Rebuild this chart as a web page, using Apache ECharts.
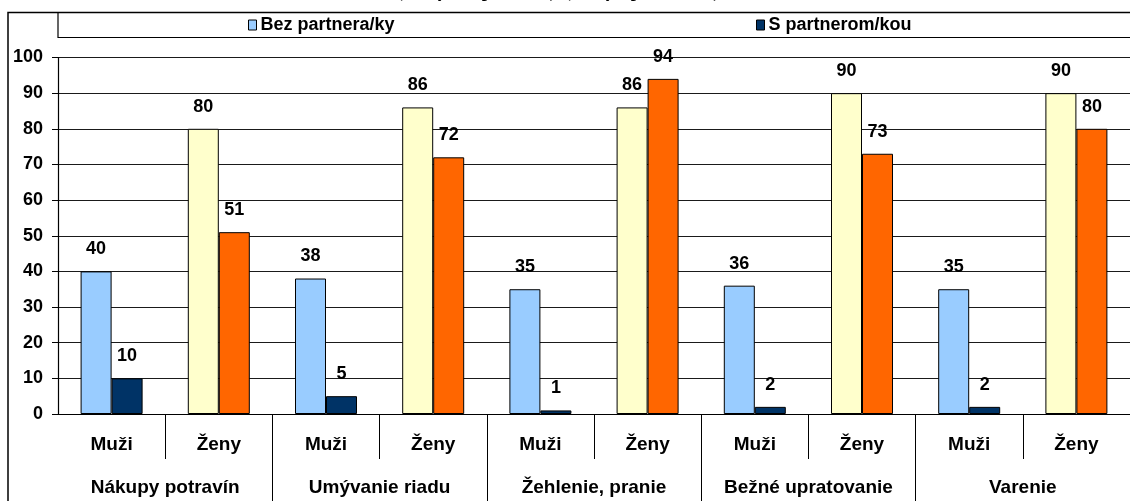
<!DOCTYPE html>
<html>
<head>
<meta charset="utf-8">
<script src="https://cdn.jsdelivr.net/npm/echarts@6/dist/echarts.min.js"></script>
<style>
html,body{margin:0;padding:0;background:#fff;}
#chart{width:1130px;height:501px;}
</style>
</head>
<body>
<div id="chart"></div>
<script>
const subCategories = ['Muži','Ženy','Muži','Ženy','Muži','Ženy','Muži','Ženy','Muži','Ženy'];
const groups = ['Nákupy potravín','Umývanie riadu','Žehlenie, pranie','Bežné upratovanie','Varenie'];
const bezPartnera = [40, 80, 38, 86, 35, 86, 36, 90, 35, 90];
const sPartnerom = [10, 51, 5, 72, 1, 94, 2, 73, 2, 80];
const seriesNames = ['Bez partnera/ky', 'S partnerom/kou'];
const yTicks = [0, 10, 20, 30, 40, 50, 60, 70, 80, 90, 100];
const titleText = '(osoby bez partnera), (osoby s partnerom)';

const COL = {
  menBez: '#99CCFF', menS: '#003366',
  womenBez: '#FFFFCC', womenS: '#FF6600'
};

function buildData(values, menColor, womenColor) {
  return values.map((v, i) => ({
    value: v,
    itemStyle: { color: i % 2 === 0 ? menColor : womenColor }
  }));
}

const labelFont = { fontFamily: 'Liberation Sans, Arial, sans-serif', fontWeight: 'bold', color: '#000' };

const chart = echarts.init(document.getElementById('chart'), null, { renderer: 'canvas' });
chart.setOption({
  animation: false,
  backgroundColor: '#fff',
  graphic: [
    { type: 'rect', shape: { x: 8, y: 12.5, width: 1300, height: 700 }, style: { fill: 'none', stroke: '#000', lineWidth: 1.5 }, z: 100 },
    { type: 'rect', shape: { x: 58, y: 12.5, width: 1300, height: 25 }, style: { fill: 'none', stroke: '#000', lineWidth: 1.2 }, z: 100 },
    { type: 'text', x: 558, y: 1, style: { text: titleText, fontFamily: 'Liberation Serif, Times New Roman, serif', fontWeight: 'bold', fontSize: 18, fill: '#000', align: 'center', verticalAlign: 'bottom' }, z: 100 }
  ],
  legend: [
    { data: [seriesNames[0]], left: 248, top: 16, padding: 0, icon: 'rect', itemWidth: 8, itemHeight: 10,
      itemStyle: { borderColor: '#000', borderWidth: 1 },
      textStyle: Object.assign({ fontSize: 18, padding: [0, 0, 0, -1] }, labelFont) },
    { data: [seriesNames[1]], left: 756, top: 16, padding: 0, icon: 'rect', itemWidth: 8, itemHeight: 10,
      itemStyle: { borderColor: '#000', borderWidth: 1 },
      textStyle: Object.assign({ fontSize: 18, padding: [0, 0, 0, -1] }, labelFont) }
  ],
  grid: { left: 58, right: -11, top: 57.5, bottom: 87, containLabel: false },
  xAxis: [
    {
      type: 'category', data: subCategories, position: 'bottom',
      axisLine: { show: true, lineStyle: { color: '#000', width: 1.2 } },
      axisTick: { show: true, length: 45, lineStyle: { color: '#000', width: 1 },
        interval: function (index) { return index !== 0; } },
      axisLabel: Object.assign({ fontSize: 19, margin: 21, interval: 0 }, labelFont),
      splitLine: { show: false }
    },
    {
      type: 'category', data: groups, position: 'bottom', offset: 0,
      axisLine: { show: false },
      axisTick: { show: true, length: 100, lineStyle: { color: '#000', width: 1 },
        interval: function (index) { return index !== 0; } },
      axisLabel: Object.assign({ fontSize: 19, margin: 64, interval: 0 }, labelFont),
      splitLine: { show: false }
    }
  ],
  yAxis: {
    type: 'value', min: 0, max: 100, interval: 10,
    axisLine: { show: true, lineStyle: { color: '#000', width: 1.2 } },
    axisTick: { show: true, inside: false, length: 6, lineStyle: { color: '#000' } },
    axisLabel: Object.assign({ fontSize: 18, margin: 15 }, labelFont),
    splitLine: { show: true, lineStyle: { color: '#1a1a1a', width: 1 } }
  },
  series: [
    {
      name: seriesNames[0], type: 'bar', xAxisIndex: 0,
      data: buildData(bezPartnera, COL.menBez, COL.womenBez),
      itemStyle: { color: COL.menBez, borderColor: '#000', borderWidth: 1 },
      barWidth: 31, barGap: '0%',
      label: Object.assign({ show: true, position: 'top', distance: 13, fontSize: 18 }, labelFont)
    },
    {
      name: seriesNames[1], type: 'bar', xAxisIndex: 0,
      data: buildData(sPartnerom, COL.menS, COL.womenS),
      itemStyle: { color: COL.menS, borderColor: '#000', borderWidth: 1 },
      barWidth: 31, barGap: '0%',
      label: Object.assign({ show: true, position: 'top', distance: 13, fontSize: 18 }, labelFont)
    }
  ]
});
</script>
</body>
</html>
